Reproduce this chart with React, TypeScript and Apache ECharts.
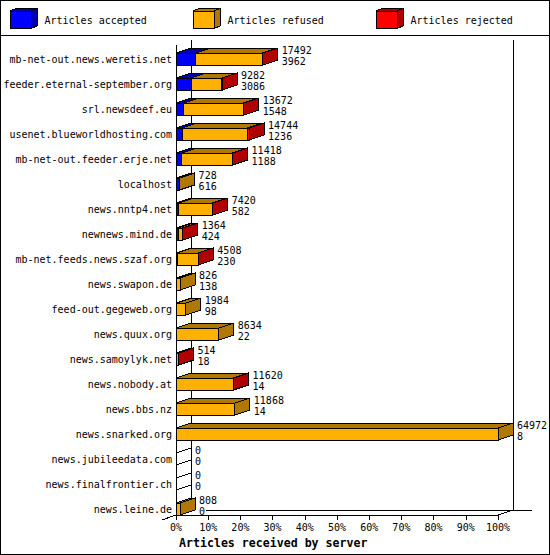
import React, { useEffect, useRef } from "react";
import * as echarts from "echarts";

const servers = [
  "mb-net-out.news.weretis.net", "feeder.eternal-september.org", "srl.newsdeef.eu",
  "usenet.blueworldhosting.com", "mb-net-out.feeder.erje.net", "localhost", "news.nntp4.net",
  "newnews.mind.de", "mb-net.feeds.news.szaf.org", "news.swapon.de", "feed-out.gegeweb.org",
  "news.quux.org", "news.samoylyk.net", "news.nobody.at", "news.bbs.nz", "news.snarked.org",
  "news.jubileedata.com", "news.finalfrontier.ch", "news.leine.de",
];
const accepted = [3962, 3086, 1548, 1236, 1188, 616, 582, 424, 230, 138, 98, 22, 18, 14, 14, 8, 0, 0, 0];
const refused = [13500, 6136, 12094, 13158, 10190, 112, 6798, 790, 4248, 688, 1886, 8612, 466, 11576, 11854, 64964, 0, 0, 808];
const rejected = [30, 60, 30, 350, 40, 0, 40, 150, 30, 0, 0, 0, 30, 30, 0, 0, 0, 0, 0];
const xTicks = [0, 100];
const seriesNames = ["Articles accepted", "Articles refused", "Articles rejected"];
const frontColors = ["#0000ff", "#ffb000", "#ff0000"];
const sideColors = ["#0000b0", "#b07800", "#b00000"];
const legendX = [10, 193, 376];
const legendTextX = [44.5, 227.5, 410.5];

const totals = servers.map((_, i) => accepted[i] + refused[i] + rejected[i]);
const maxTotal = Math.max(...totals);
const pct = (v: number) => (v / maxTotal) * 100;
const DX = 15;
const DY = 5;
const FONT = "'DejaVu Sans Mono', monospace";

const stacks = [accepted, refused, rejected];

const segmentData = (k: number) =>
  servers.map((name, i) => {
    const start = stacks.slice(0, k).reduce((s, a) => s + a[i], 0);
    const isLast = stacks.slice(k + 1).every((a) => a[i] === 0);
    return [pct(start), pct(start + stacks[k][i]), name, stacks[k][i] > 0 && isLast ? 1 : 0, stacks[k][i]];
  });

const makeSegmentRender = (k: number) => (_p: any, api: any) => {
  if (api.value(4) === 0) return null;
  const [x0, c] = api.coord([api.value(0), api.value(2)]);
  const [x1] = api.coord([api.value(1), api.value(2)]);
  const yt = Math.round(c + 0.5);
  const yb = yt + 12;
  const line = { stroke: "#000", lineWidth: 1 };
  const children: any[] = [
    {
      type: "polygon",
      shape: { points: [[x0, yt], [x1, yt], [x1 + DX, yt - DY], [x0 + DX, yt - DY]] },
      style: { fill: sideColors[k], ...line },
    },
    { type: "polygon", shape: { points: [[x0, yt], [x1, yt], [x1, yb], [x0, yb]] }, style: { fill: frontColors[k], ...line } },
  ];
  if (api.value(3) === 1) {
    children.push({
      type: "polygon",
      shape: { points: [[x1, yt], [x1 + DX, yt - DY], [x1 + DX, yb - DY], [x1, yb]] },
      style: { fill: sideColors[k], ...line },
    });
  }
  return { type: "group", children };
};

const labelData = servers.map((name, i) => [pct(totals[i]), name, totals[i], accepted[i]]);

const renderLabels = (_p: any, api: any) => {
  const [x, c] = api.coord([api.value(0), api.value(1)]);
  const yt = Math.round(c + 0.5);
  const children: any[] = [];
  if (api.value(2) === 0) {
    [yt, yt + 12].forEach((y) =>
      children.push({
        type: "line",
        shape: { x1: x, y1: y, x2: x + DX, y2: y - DY },
        style: { stroke: "#000", lineWidth: 1 },
      })
    );
  }
  const tx = x + DX + 4;
  [[api.value(2), yt - 3], [api.value(3), yt + 8]].forEach(([v, y]) =>
    children.push({
      type: "text",
      x: tx,
      y,
      style: { text: String(v), font: `10px ${FONT}`, fill: "#000", align: "left", verticalAlign: "middle" },
    })
  );
  return { type: "group", children };
};

const frameLines = [
  [0, 35.5, 550, 35.5],
  [176.5, 45, 176.5, 515],
  [191.5, 40, 191.5, 510],
  [513.5, 40, 513.5, 510],
  [206, 510.5, 532, 510.5],
  [162, 520, 176, 515],
  [498, 515, 513, 510],
];

const legendGraphics = seriesNames.flatMap((name, k) => {
  const x = legendX[k];
  const stroke = { stroke: "#000", lineWidth: 1 };
  return [
    { type: "polygon", shape: { points: [[x, 11], [x + 21, 11], [x + 27, 8.5], [x + 6, 8.5]] }, style: { fill: sideColors[k], ...stroke } },
    { type: "polygon", shape: { points: [[x + 21, 11], [x + 27, 8.5], [x + 27, 26], [x + 21, 28.5]] }, style: { fill: sideColors[k], ...stroke } },
    { type: "rect", shape: { x, y: 11, width: 21, height: 17.5 }, style: { fill: frontColors[k], ...stroke } },
    {
      type: "text",
      x: legendTextX[k],
      y: 20,
      style: { text: name, font: `10px ${FONT}`, fill: "#000", verticalAlign: "middle", align: "left" },
    },
  ];
});

export default function App() {
  const ref = useRef<HTMLDivElement>(null);
  useEffect(() => {
    document.body.style.margin = "0";
    const chart = echarts.init(ref.current!, undefined, { renderer: "svg" });
    chart.setOption({
      animation: false,
      backgroundColor: "#fff",
      title: {
        text: "Articles received by server",
        left: 179,
        top: 537,
        padding: 0,
        textStyle: { fontFamily: FONT, fontWeight: "bold", fontSize: 11.6, color: "#000" },
      },
      grid: { left: 176, width: 322, top: 40, height: 475, containLabel: false },
      xAxis: {
        type: "value",
        min: xTicks[0],
        max: xTicks[1],
        interval: 10,
        splitLine: { show: false },
        axisLine: { show: true, lineStyle: { color: "#000", width: 1 } },
        axisTick: { show: true, length: 5, lineStyle: { color: "#000", width: 1 } },
        axisLabel: { formatter: "{value}%", margin: 7, fontFamily: FONT, fontSize: 10, color: "#000", showMinLabel: true, showMaxLabel: true },
      },
      yAxis: {
        type: "category",
        inverse: true,
        data: servers,
        axisLine: { show: false },
        axisTick: { show: false },
        splitLine: { show: false },
        axisLabel: {
          margin: 4,
          interval: 0,
          verticalAlign: "top",
          padding: [2, 0, 0, 0],
          fontFamily: FONT,
          fontSize: 10,
          color: "#000",
        },
      },
      graphic: [
        {
          type: "rect",
          silent: true,
          shape: { x: 0.5, y: 0.5, width: 549, height: 554 },
          style: { fill: "none", stroke: "#000", lineWidth: 1 },
        },
        ...frameLines.map(([x1, y1, x2, y2]) => ({
          type: "line",
          silent: true,
          shape: { x1, y1, x2, y2 },
          style: { stroke: "#000", lineWidth: 1 },
        })),
        ...legendGraphics,
      ],
      series: [
        ...seriesNames.map((name, k) => ({
          type: "custom",
          name,
          z: 3 + k,
          clip: false,
          silent: true,
          renderItem: makeSegmentRender(k),
          encode: { x: [0, 1], y: 2 },
          data: segmentData(k),
        })),
        {
          type: "custom",
          name: "labels",
          z: 8,
          clip: false,
          silent: true,
          renderItem: renderLabels,
          encode: { x: 0, y: 1 },
          data: labelData,
        },
      ],
    });
    return () => chart.dispose();
  }, []);
  return (
    <>
      <style>{`svg path, svg line, svg polygon, svg rect { shape-rendering: crispEdges; }`}</style>
      <div ref={ref} style={{ position: "absolute", left: 0, top: 0, width: 550, height: 555 }} />
    </>
  );
}
